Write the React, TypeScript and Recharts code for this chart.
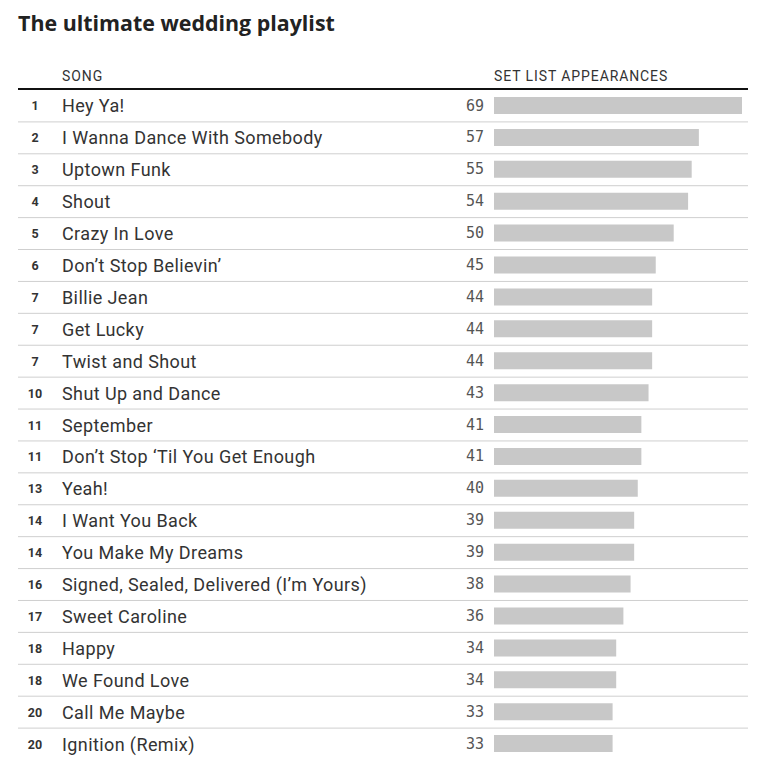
import React from "react";
import { BarChart, Bar, XAxis, YAxis, LabelList } from "recharts";

const songs = [
  "Hey Ya!",
  "I Wanna Dance With Somebody",
  "Uptown Funk",
  "Shout",
  "Crazy In Love",
  "Don\u2019t Stop Believin\u2019",
  "Billie Jean",
  "Get Lucky",
  "Twist and Shout",
  "Shut Up and Dance",
  "September",
  "Don\u2019t Stop \u2018Til You Get Enough",
  "Yeah!",
  "I Want You Back",
  "You Make My Dreams",
  "Signed, Sealed, Delivered (I\u2019m Yours)",
  "Sweet Caroline",
  "Happy",
  "We Found Love",
  "Call Me Maybe",
  "Ignition (Remix)",
];
const ranks = [1, 2, 3, 4, 5, 6, 7, 7, 7, 10, 11, 11, 13, 14, 14, 16, 17, 18, 18, 20, 20];
const appearances = [69, 57, 55, 54, 50, 45, 44, 44, 44, 43, 41, 41, 40, 39, 39, 38, 36, 34, 34, 33, 33];

const data = songs.map((song, i) => ({ song, rank: ranks[i], value: appearances[i] }));

const W = 752;
const H = 757;
const MARGIN = { top: 82, right: 18, bottom: 5, left: 0 };
const ROW_H = (H - MARGIN.top - MARGIN.bottom) / data.length;

const SongTick = (props: any) => {
  const { y, payload } = props;
  const i = payload.index;
  const last = i === data.length - 1;
  return (
    <g>
      <text
        x={27}
        y={y}
        textAnchor="middle"
        dominantBaseline="central"
        fontFamily="Roboto, sans-serif"
        fontWeight={700}
        fontSize={12.5}
        fill="#333"
      >
        {ranks[i]}
      </text>
      <text
        x={54}
        y={y}
        dominantBaseline="central"
        fontFamily="Roboto, sans-serif"
        fontSize={18}
        letterSpacing={0.4}
        fill="#333"
      >
        {payload.value}
      </text>
      {!last && (
        <line x1={10} x2={740} y1={y + ROW_H / 2} y2={y + ROW_H / 2} stroke="#cfcfcf" strokeWidth={1} />
      )}
    </g>
  );
};

const ValueLabel = (props: any) => {
  const { x, y, height, value } = props;
  return (
    <text
      x={x - 10}
      y={y + height / 2}
      textAnchor="end"
      dominantBaseline="central"
      fontFamily="'DejaVu Sans Mono', monospace"
      fontSize={15}
      fill="#555"
    >
      {value}
    </text>
  );
};

const headerStyle: React.CSSProperties = {
  position: "absolute",
  top: 60,
  fontSize: 14,
  lineHeight: "16px",
  letterSpacing: 0.9,
  color: "#333",
};

export default function App() {
  return (
    <div style={{ position: "relative", width: W, height: H, fontFamily: "Roboto, sans-serif" }}>
      <div
        style={{
          position: "absolute",
          left: 10,
          top: 2,
          fontFamily: "'Open Sans', sans-serif",
          fontSize: 21.4,
          lineHeight: "26px",
          fontWeight: 700,
          color: "#222",
        }}
      >
        The ultimate wedding playlist
      </div>
      <div style={{ ...headerStyle, left: 54 }}>SONG</div>
      <div style={{ ...headerStyle, left: 486 }}>SET LIST APPEARANCES</div>
      <div style={{ position: "absolute", left: 10, top: 80, width: 730, height: 2, background: "#111" }} />
      <BarChart width={W} height={H} data={data} layout="vertical" margin={MARGIN} barSize={17}>
        <XAxis type="number" dataKey="value" domain={[0, "dataMax"]} hide />
        <YAxis
          type="category"
          dataKey="song"
          width={486}
          axisLine={false}
          tickLine={false}
          tick={<SongTick />}
          interval={0}
        />
        <Bar dataKey="value" fill="#c8c8c8" isAnimationActive={false}>
          <LabelList dataKey="value" content={<ValueLabel />} />
        </Bar>
      </BarChart>
    </div>
  );
}
